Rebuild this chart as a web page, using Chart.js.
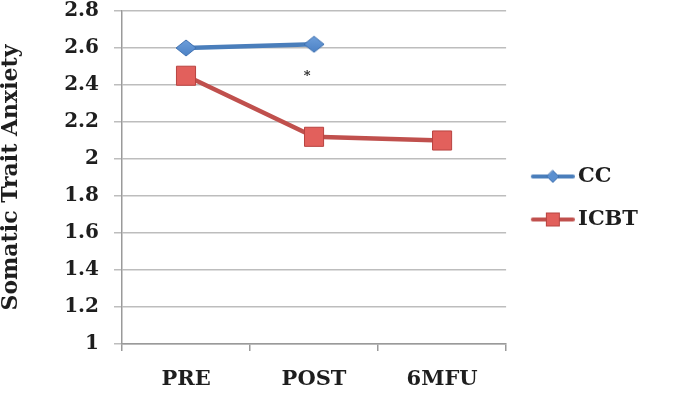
<!DOCTYPE html>
<html>
<head>
<meta charset="utf-8">
<script src="https://cdn.jsdelivr.net/npm/chart.js@4/dist/chart.umd.min.js"></script>
<style>
  html, body { margin: 0; padding: 0; background: #fff; }
  #wrap { width: 688px; height: 393px; position: relative; }
</style>
</head>
<body>
<div id="wrap"><canvas id="c" width="688" height="393"></canvas></div>
<script>
// ---- data ----
const categories = ['PRE', 'POST', '6MFU'];
const ccValues = [2.60, 2.62, null];
const icbtValues = [2.45, 2.12, 2.10];
const seriesNames = ['CC', 'ICBT'];
const yTickValues = [1, 1.2, 1.4, 1.6, 1.8, 2, 2.2, 2.4, 2.6, 2.8];
const yTitle = 'Somatic Trait Anxiety';
const noteCategory = 'POST';
const noteValue = 2.445;
const noteText = '*';

const FONT = "'DejaVu Serif', serif";
const blueLine = '#4a7ebb', blueFill = '#5a8fd0', blueEdge = '#3d6faf';
const redLine = '#c0504d', redFill = '#e2605c', redEdge = '#b84441';

function diamondImage(w, h) {
  const cv = document.createElement('canvas');
  cv.width = w + 2; cv.height = h + 2;
  const g = cv.getContext('2d');
  const cx = (w + 2) / 2, cy = (h + 2) / 2;
  const grad = g.createLinearGradient(0, 0, 0, h + 2);
  grad.addColorStop(0, '#6fa0dc');
  grad.addColorStop(1, '#4a80c4');
  g.fillStyle = grad; g.strokeStyle = blueEdge; g.lineWidth = 1;
  g.beginPath(); g.moveTo(cx, 1); g.lineTo(w + 1, cy); g.lineTo(cx, h + 1); g.lineTo(1, cy); g.closePath();
  g.fill(); g.stroke();
  return cv;
}
const ccPointImage = diamondImage(20, 16);

function legendIcon(kind) {
  const m = 5;
  const cv = document.createElement('canvas');
  cv.width = 44 + 2 * m; cv.height = 18;
  const g = cv.getContext('2d');
  g.translate(2 * m, 0);
  g.lineWidth = 4;
  g.lineCap = 'round';
  g.strokeStyle = kind === 'diamond' ? blueLine : redLine;
  g.beginPath(); g.moveTo(2, 9); g.lineTo(42, 9); g.stroke();
  g.lineWidth = 1;
  if (kind === 'diamond') {
    g.fillStyle = blueFill; g.strokeStyle = blueEdge;
    g.beginPath(); g.moveTo(22, 3); g.lineTo(28, 9); g.lineTo(22, 15); g.lineTo(16, 9); g.closePath();
    g.fill(); g.stroke();
  } else {
    g.fillStyle = redFill; g.strokeStyle = redEdge;
    g.fillRect(15.5, 2.5, 13, 13); g.strokeRect(15.5, 2.5, 13, 13);
  }
  return cv;
}
const icons = [legendIcon('diamond'), legendIcon('square')];

const notePlugin = {
  id: 'note',
  afterDatasetsDraw(chart) {
    const x = chart.scales.x.getPixelForValue(categories.indexOf(noteCategory));
    const y = chart.scales.y.getPixelForValue(noteValue);
    const ctx = chart.ctx;
    ctx.save();
    ctx.fillStyle = '#222';
    ctx.font = "bold 13px " + FONT;
    ctx.textAlign = 'center';
    ctx.textBaseline = 'middle';
    ctx.fillText(noteText, x - 7, y);
    ctx.restore();
  }
};

new Chart(document.getElementById('c'), {
  type: 'line',
  data: {
    labels: categories,
    datasets: [
      {
        label: seriesNames[0], data: ccValues,
        borderColor: blueLine, borderWidth: 4.5,
        pointStyle: ccPointImage, pointRadius: 10, pointHoverRadius: 10,
        tension: 0, spanGaps: false, clip: false
      },
      {
        label: seriesNames[1], data: icbtValues,
        borderColor: redLine, borderWidth: 4.5,
        pointStyle: 'rect', pointRadius: 13.5, pointHoverRadius: 13.5,
        pointBackgroundColor: redFill, pointBorderColor: redEdge, pointBorderWidth: 1,
        tension: 0, clip: false
      }
    ]
  },
  options: {
    responsive: false,
    animation: false,
    devicePixelRatio: 1,
    layout: { autoPadding: false, padding: { top: 11, right: 40, bottom: 8, left: 0 } },
    plugins: {
      tooltip: { enabled: false },
      legend: {
        position: 'right',
        labels: {
          color: '#1e1e1e',
          font: { family: FONT, size: 21, weight: 'bold' },
          usePointStyle: true,
          pointStyleWidth: 39.5,
          padding: 22,
          generateLabels(chart) {
            const items = Chart.defaults.plugins.legend.labels.generateLabels(chart);
            items.forEach((it, i) => { it.pointStyle = icons[i]; });
            return items;
          }
        }
      }
    },
    scales: {
      x: {
        offset: true,
        grid: { display: true, drawOnChartArea: false, drawTicks: true, tickLength: 7, offset: true, color: '#9a9a9a', lineWidth: 1.5 },
        border: { display: true, color: '#9a9a9a', width: 1.5 },
        ticks: { color: '#1e1e1e', font: { family: FONT, size: 21, weight: 'bold' }, padding: 16 },
        afterFit(s) { s.height = 41; }
      },
      y: {
        min: 1, max: 2.8,
        afterBuildTicks(s) { s.ticks = yTickValues.map(v => ({ value: v })); },
        grid: { color: '#bdbdbd', lineWidth: 1.5, tickLength: 8 },
        border: { display: true, color: '#9a9a9a', width: 1.5 },
        ticks: {
          color: '#1e1e1e', font: { family: FONT, size: 20, weight: 'bold', lineHeight: 1 }, padding: 15,
          callback: v => String(Math.round(v * 10) / 10)
        },
        title: {
          display: true, text: yTitle, color: '#1e1e1e',
          font: { family: FONT, size: 22, weight: 'bold', lineHeight: 1 },
          padding: { top: 0, bottom: 0 }
        },
        afterFit(s) { s.width = 122; s.paddingTop = 0; s.paddingBottom = 0; }
      }
    }
  },
  plugins: [notePlugin]
});
</script>
</body>
</html>
